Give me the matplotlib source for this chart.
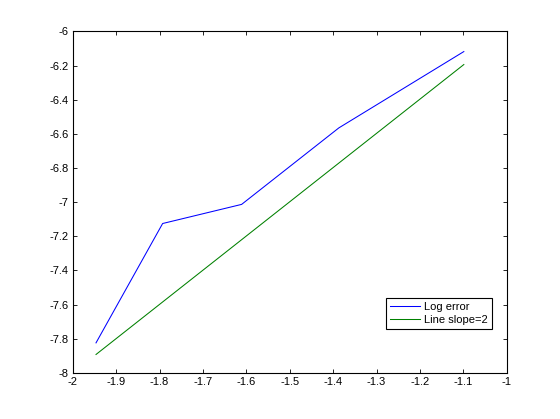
import matplotlib
matplotlib.use("Agg")
import matplotlib.pyplot as plt
import numpy as np

log_h = [-1.9465, -1.793, -1.611, -1.387, -1.099]
log_err = [-7.824, -7.125, -7.013, -6.565, -6.118]
line_x = [-1.9465, -1.099]
line_y = [-7.892, -6.194]

x_ticks = [-2, -1.9, -1.8, -1.7, -1.6, -1.5, -1.4, -1.3, -1.2, -1.1, -1]
x_labels = ["-2", "-1.9", "-1.8", "-1.7", "-1.6", "-1.5", "-1.4", "-1.3", "-1.2", "-1.1", "-1"]
y_ticks = [-8, -7.8, -7.6, -7.4, -7.2, -7, -6.8, -6.6, -6.4, -6.2, -6]
y_labels = ["-8", "-7.8", "-7.6", "-7.4", "-7.2", "-7", "-6.8", "-6.6", "-6.4", "-6.2", "-6"]

plt.rcParams['font.family'] = ['Liberation Sans', 'DejaVu Sans']

fig = plt.figure(figsize=(5.6, 4.19), dpi=100)
ax = fig.add_axes([0.13, 0.11, 0.775, 0.815])
ax.plot(log_h, log_err, color=(0, 0, 1), lw=0.75, label="Log error")
ax.plot(line_x, line_y, color=(0, 0.5, 0), lw=0.75, label="Line slope=2")
ax.set_xlim(-2, -1)
ax.set_ylim(-8, -6)
ax.set_xticks(x_ticks)
ax.set_xticklabels(x_labels)
ax.set_yticks(y_ticks)
ax.set_yticklabels(y_labels)
ax.tick_params(direction='in', length=3.2, width=0.6, top=True, right=True, labelsize=8, pad=3)
for s in ax.spines.values():
    s.set_linewidth(0.8)
leg = ax.legend(loc='lower right', bbox_to_anchor=(0.965, 0.13), fontsize=8, frameon=True, fancybox=False,
                edgecolor='black', framealpha=1, handlelength=2.7, borderaxespad=0, borderpad=0.35,
                labelspacing=0.25, handletextpad=0.4)
leg.get_frame().set_linewidth(0.8)
fig.savefig("out.png", dpi=100)
